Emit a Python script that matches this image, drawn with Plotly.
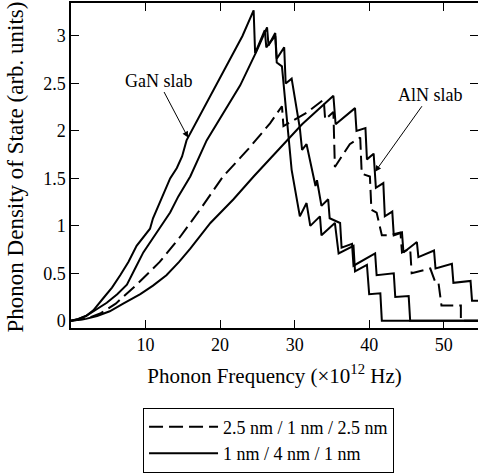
import plotly.graph_objects as go

# GaN slab, outer curve (solid)
gan_a_x = [0, 1, 2, 3, 4.35, 5.5, 6.6, 7.7, 8.8, 10.6, 11.0, 12.6, 13.3, 14.2, 14.9, 15.5, 17, 19, 21, 23,
           24.5, 24.7, 26.0, 26.2, 27.4, 27.6, 28.3, 29.0, 29.6, 30.7, 31.6, 32.1, 33.4, 33.6, 35.4, 35.9,
           37.9, 38.1, 39.7, 40.0, 41.5, 41.7, 55]
gan_a_y = [0, 0.02, 0.05, 0.11, 0.24, 0.35, 0.48, 0.62, 0.79, 0.97, 1.08, 1.38, 1.50, 1.61, 1.73, 1.90, 2.12, 2.42, 2.71, 3.0,
           3.27, 2.82, 3.06, 2.88, 3.0, 2.72, 2.68, 2.10, 1.59, 1.10, 1.24, 1.0, 1.10, 0.90, 1.03, 0.71,
           0.79, 0.52, 0.59, 0.28, 0.29, 0, 0]

# GaN slab, inner curve (solid)
gan_b_x = [0, 1, 2, 3, 4.8, 6.2, 7.5, 8.6, 9.7, 11.5, 13.3, 14.4, 16, 18.2, 20.5, 22.7, 24.9, 26.3, 26.5, 27.4,
           27.6, 28.6, 28.8, 29.6, 30.7, 31.0, 31.6, 32.1, 32.8, 33.0, 33.6, 34.5, 34.7, 36.1, 36.3, 37.7, 37.9,
           40.8, 41.0, 43.3, 43.5, 45.3, 45.5, 55]
gan_b_y = [0, 0.02, 0.05, 0.1, 0.19, 0.28, 0.38, 0.55, 0.72, 0.93, 1.14, 1.31, 1.52, 1.90, 2.2, 2.48, 2.84, 3.09, 2.9, 3.03,
           2.76, 2.88, 2.5, 2.55, 2.03, 1.80, 1.86, 1.69, 1.42, 1.48, 1.21, 1.28, 1.08, 1.03, 0.77, 0.81, 0.58,
           0.71, 0.48, 0.50, 0.25, 0.26, 0, 0]

# AlN slab, solid
aln_s_x = [0, 2, 3.5, 5.2, 7, 9.3, 11, 12.8, 14.5, 16, 18.7, 21.8, 24.5, 28, 31, 35.2, 35.5, 38.1, 38.3, 39.5,
           39.7, 40.6, 40.9, 41.9, 42.1, 43.1, 43.3, 44.4, 44.6, 46.4, 46.6, 48.7, 48.9, 51.1, 51.3, 53.6, 53.8, 55]
aln_s_y = [0, 0.02, 0.05, 0.10, 0.18, 0.28, 0.37, 0.48, 0.62, 0.76, 1.03, 1.28, 1.52, 1.82, 2.07, 2.37, 2.07, 2.24, 2.0, 2.03,
           1.70, 1.76, 1.40, 1.45, 1.10, 1.15, 0.90, 0.93, 0.72, 0.83, 0.67, 0.74, 0.55, 0.60, 0.40, 0.42, 0.21, 0.21]

# AlN slab, dashed (2.5 nm / 1 nm / 2.5 nm)
aln_d_x = [0, 2, 4, 6, 8.8, 11.9, 14.6, 17.3, 20.4, 23.8, 26.7, 28.3, 28.5, 31.6, 33.9, 34.1, 35.2, 35.4, 37.4, 38.8,
           39.0, 40.1, 40.3, 41.0, 41.7, 42.6, 44.2, 44.4, 45.5, 45.7, 48.2, 48.9, 49.3, 49.7, 52.3, 52.3, 55]
aln_d_y = [0, 0.02, 0.08, 0.18, 0.38, 0.62, 0.88, 1.17, 1.52, 1.81, 2.08, 2.26, 2.05, 2.19, 2.33, 2.12, 2.2, 1.62, 1.86, 1.93,
           1.55, 1.52, 1.17, 1.14, 0.90, 0.90, 0.93, 0.72, 0.76, 0.50, 0.55, 0.40, 0.40, 0.16, 0.16, 0, 0]

legend_names = ["2.5 nm / 1 nm / 2.5 nm", "1 nm / 4 nm / 1 nm"]
x_ticks = [10, 20, 30, 40, 50]
y_ticks = [0, 0.5, 1, 1.5, 2, 2.5, 3]
y_tick_text = ["0", "0.5", "1", "1.5", "2", "2.5", "3"]

FONT = "Liberation Serif"
solid = dict(color="black", width=2)
dashed = dict(color="black", width=2, dash="14px,6px")

fig = go.Figure()
fig.add_trace(go.Scatter(x=aln_d_x, y=aln_d_y, mode="lines", line=dashed, name=legend_names[0],
                         legendgroup="d", showlegend=True))
fig.add_trace(go.Scatter(x=gan_a_x, y=gan_a_y, mode="lines", line=solid, name=legend_names[1],
                         legendgroup="s", showlegend=True))
fig.add_trace(go.Scatter(x=gan_b_x, y=gan_b_y, mode="lines", line=solid, name=legend_names[1],
                         legendgroup="s", showlegend=False))
fig.add_trace(go.Scatter(x=aln_s_x, y=aln_s_y, mode="lines", line=solid, name=legend_names[1],
                         legendgroup="s", showlegend=False))
# empty trace to activate the mirrored top/right axes
fig.add_trace(go.Scatter(x=[], y=[], xaxis="x2", yaxis="y2", showlegend=False, hoverinfo="skip"))

axis_common = dict(ticks="inside", ticklen=8, tickwidth=1, tickcolor="black", showgrid=False,
                   zeroline=False, linecolor="black", linewidth=1.5)

fig.update_layout(
    width=478, height=473,
    margin=dict(l=71, r=0, t=3, b=139),
    paper_bgcolor="white", plot_bgcolor="white",
    font=dict(family=FONT, size=18, color="black"),
    showlegend=True,
    legend=dict(x=0.177, y=-0.245, xanchor="left", yanchor="top", bordercolor="black", borderwidth=1,
                bgcolor="white", font=dict(size=18, family=FONT), tracegroupgap=0, itemwidth=69),
    xaxis=dict(range=[0, 54.6], tickvals=x_ticks, showline=True, mirror=False,
               title=dict(text="Phonon Frequency (×10<sup>12</sup> Hz)", font=dict(size=21, family=FONT), standoff=14),
               tickfont=dict(size=18, family=FONT), **axis_common),
    yaxis=dict(range=[-0.076, 3.347], tickvals=y_ticks, ticktext=y_tick_text, showline=True, mirror=False,
               tickfont=dict(size=18, family=FONT), **axis_common),
    xaxis2=dict(overlaying="x", side="top", anchor="y", matches="x", range=[0, 54.6], tickvals=x_ticks,
                showticklabels=False, showline=True, **axis_common),
    yaxis2=dict(overlaying="y", side="right", anchor="x", matches="y", range=[-0.076, 3.347], tickvals=y_ticks,
                showticklabels=False, ticks="inside", ticklen=8, tickwidth=1, tickcolor="black",
                showgrid=False, zeroline=False, showline=False),
)

# y-axis title placed as rotated paper-anchored text
fig.add_annotation(xref="paper", yref="paper", x=-0.1376, y=0.497, xanchor="center", yanchor="middle",
                   text="Phonon Density of State (arb. units)", textangle=-90, showarrow=False,
                   font=dict(size=23, family=FONT))

# annotations: labels with arrows pointing to the curves
fig.add_annotation(x=15.7, y=1.93, ax=-30, ay=-57, text="GaN slab", showarrow=True, arrowhead=2,
                   arrowsize=1.2, arrowwidth=1, arrowcolor="black", font=dict(size=18, family=FONT))
fig.add_annotation(x=40.8, y=1.57, ax=55, ay=-77, text="AlN slab", showarrow=True, arrowhead=2,
                   arrowsize=1.2, arrowwidth=1, arrowcolor="black", font=dict(size=18, family=FONT))

fig.write_html("out.html", config={"displayModeBar": False},
               post_script="document.body.style.margin='0';")
